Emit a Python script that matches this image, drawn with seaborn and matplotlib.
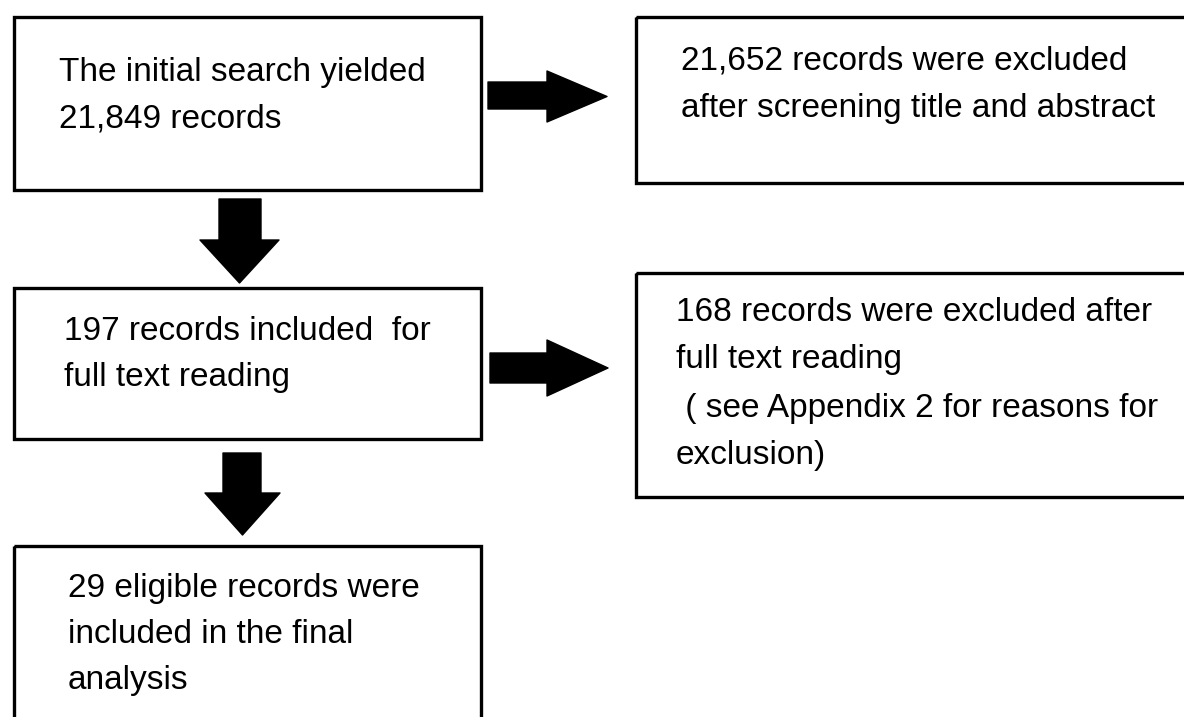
import matplotlib
matplotlib.use('Agg')
import matplotlib.pyplot as plt
from matplotlib.patches import Rectangle, Polygon
import seaborn as sns

sns.set_theme(style='white')
plt.rcParams['font.family'] = ['Liberation Sans', 'DejaVu Sans']

# flowchart content
box_names = ['search', 'excluded_screen', 'fulltext', 'excluded_fulltext', 'final']
box_lines = [
    ['The initial search yielded', '21,849 records'],
    ['21,652 records were excluded', 'after screening title and abstract'],
    ['197 records included  for', 'full text reading'],
    ['168 records were excluded after', 'full text reading',
     ' ( see Appendix 2 for reasons for', 'exclusion)'],
    ['29 eligible records were', 'included in the final', 'analysis'],
]
# links between boxes (from, to)
links = [(0, 1), (0, 2), (2, 3), (2, 4)]

# layout in pixels (x0, y0, x1, y1), y going down
box_geom = [(14, 17, 481, 190), (636, 17, 1200, 183), (14, 288, 481, 439),
            (636, 273, 1200, 497), (14, 546, 481, 730)]
text_x = [59, 681, 64, 676, 68]
text_y = [[81, 127], [70, 117], [340, 386], [321, 368, 417, 464], [597, 643, 689]]
arrow_geom = {
    (0, 1): dict(kind='right', s0=488, s1=547, h1=607, w0=82, w1=109, hw0=71, hw1=122),
    (2, 3): dict(kind='right', s0=490, s1=547, h1=608, w0=353, w1=383, hw0=340, hw1=396),
    (0, 2): dict(kind='down', s0=199, s1=240, h1=283, w0=219, w1=261, hw0=200, hw1=279),
    (2, 4): dict(kind='down', s0=453, s1=493, h1=535, w0=223, w1=261, hw0=205, hw1=280),
}

fig = plt.figure(figsize=(11.84, 7.17), dpi=100)
ax = fig.add_axes([0, 0, 1, 1])
ax.set_xlim(0, 1184)
ax.set_ylim(717, 0)
ax.axis('off')

for i, name in enumerate(box_names):
    x0, y0, x1, y1 = box_geom[i]
    ax.add_patch(Rectangle((x0, y0), x1 - x0, y1 - y0, fill=False,
                           edgecolor='black', linewidth=2.4))
    for line, yb in zip(box_lines[i], text_y[i]):
        ax.text(text_x[i], yb, line, fontsize=24, color='black',
                ha='left', va='baseline')

for link in links:
    g = arrow_geom[link]
    if g['kind'] == 'right':
        mid = (g['hw0'] + g['hw1']) / 2
        pts = [(g['s0'], g['w0']), (g['s1'], g['w0']), (g['s1'], g['hw0']),
               (g['h1'], mid), (g['s1'], g['hw1']), (g['s1'], g['w1']),
               (g['s0'], g['w1'])]
    else:
        mid = (g['hw0'] + g['hw1']) / 2
        pts = [(g['w0'], g['s0']), (g['w1'], g['s0']), (g['w1'], g['s1']),
               (g['hw1'], g['s1']), (mid, g['h1']), (g['hw0'], g['s1']),
               (g['w0'], g['s1'])]
    ax.add_patch(Polygon(pts, closed=True, facecolor='black', edgecolor='black',
                         linewidth=1, joinstyle='round'))

fig.savefig('out.png', dpi=100, facecolor='white')
